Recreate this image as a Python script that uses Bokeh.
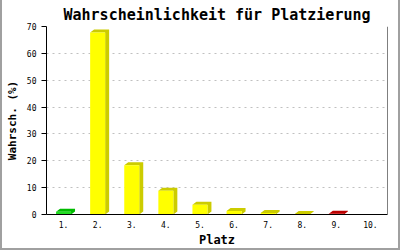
from bokeh.plotting import figure
from bokeh.models import ColumnDataSource, FixedTicker, SingleIntervalTicker, Range1d, Span
from bokeh.embed import file_html
from bokeh.resources import INLINE

# ---- data ----
places = [1, 2, 3, 4, 5, 6, 7, 8, 9, 10]
place_labels = ["1.", "2.", "3.", "4.", "5.", "6.", "7.", "8.", "9.", "10."]
probabilities = [1.0, 67.8, 18.3, 8.8, 3.6, 1.3, 0.6, 0.2, 0.3, 0.0]
front_colors = ["#22dd22", "#ffff00", "#ffff00", "#ffff00", "#ffff00", "#ffff00", "#ffff00", "#ffff00", "#dd0000", "#ffff00"]
side_colors = ["#00bb00", "#cccc00", "#cccc00", "#cccc00", "#cccc00", "#cccc00", "#cccc00", "#cccc00", "#bb0000", "#cccc00"]
y_max = 70
title_text = "Wahrscheinlichkeit für Platzierung"

# ---- layout constants ----
W, H = 400, 250
left_b, right_b, top_b, bottom_b = 43, 15, 26, 36
frame_w = W - left_b - right_b
frame_h = H - top_b - bottom_b
bar_w = 0.44
depth_x_px, depth_y_px = 4, 3
dx = depth_x_px / (frame_w / len(places))
dy = depth_y_px / (frame_h / y_max)

p = figure(width=W, height=H, output_backend="svg", toolbar_location=None,
           x_range=Range1d(0.5, len(places) + 0.5), y_range=Range1d(0, y_max),
           min_border_left=left_b, min_border_right=right_b,
           min_border_top=top_b, min_border_bottom=bottom_b,
           title=title_text)
p.styles = {"border-left": "2px solid #a0a0a0", "border-right": "2px solid #a0a0a0",
            "border-bottom": "2px solid #a0a0a0", "box-sizing": "border-box"}

mono = "DejaVu Sans Mono"
p.title.text_font = mono
p.title.text_font_size = "15px"
p.title.text_font_style = "bold"
p.title.align = "center"
p.title.offset = -14
p.title.standoff = 5
p.title.text_color = "black"

p.outline_line_color = None
p.background_fill_color = "white"
p.border_fill_color = "white"

p.xgrid.grid_line_color = None
p.ygrid.grid_line_color = "#c0c0c0"
p.ygrid.grid_line_dash = "2 4"
p.ygrid.grid_line_width = 1

p.yaxis.ticker = SingleIntervalTicker(interval=10)
p.yaxis.minor_tick_line_color = None
p.yaxis.major_tick_out = 5
p.yaxis.major_tick_in = 0
p.yaxis.major_label_text_font = mono
p.yaxis.major_label_text_font_size = "8px"
p.yaxis.major_label_text_color = "black"
p.yaxis.major_label_standoff = 5
p.yaxis.axis_label = "Wahrsch. (%)"
p.yaxis.axis_label_text_font = mono
p.yaxis.axis_label_text_font_size = "11px"
p.yaxis.axis_label_text_font_style = "bold"
p.yaxis.axis_label_text_color = "black"
p.yaxis.axis_label_standoff = 5
p.yaxis.axis_line_color = "black"
p.yaxis.major_tick_line_color = "black"

p.xaxis.ticker = FixedTicker(ticks=places)
p.xaxis.major_label_overrides = {pl: lab for pl, lab in zip(places, place_labels)}
p.xaxis.minor_tick_line_color = None
p.xaxis.major_tick_out = 0
p.xaxis.major_tick_in = 0
p.xaxis.major_label_text_font = mono
p.xaxis.major_label_text_font_size = "8px"
p.xaxis.major_label_text_color = "black"
p.xaxis.major_label_standoff = 6
p.xaxis.axis_label = "Platz"
p.xaxis.axis_label_text_font = mono
p.xaxis.axis_label_text_font_size = "12px"
p.xaxis.axis_label_text_font_style = "bold"
p.xaxis.axis_label_text_color = "black"
p.xaxis.axis_label_standoff = 2
p.xaxis.axis_line_color = "black"

p.add_layout(Span(location=len(places) + 0.5, dimension="height", line_color="black", line_width=1))

# ---- bars (3D look) ----
xs, ys, sc = [], [], []
lefts, rights, tops, fc = [], [], [], []
for pl, v, f, s in zip(places, probabilities, front_colors, side_colors):
    if v <= 0:
        continue
    x0, x1 = pl - bar_w / 2, pl + bar_w / 2
    xs.append([x0, x0 + dx, x1 + dx, x1 + dx, x1, x1])
    ys.append([v, v + dy, v + dy, dy, 0, v])
    sc.append(s)
    lefts.append(x0); rights.append(x1); tops.append(v); fc.append(f)

p.patches(xs=xs, ys=ys, fill_color=sc, line_color=None)
p.quad(left=lefts, right=rights, bottom=0, top=tops, fill_color=fc, line_color=None)

open("out.html", "w").write(file_html(p, INLINE))
